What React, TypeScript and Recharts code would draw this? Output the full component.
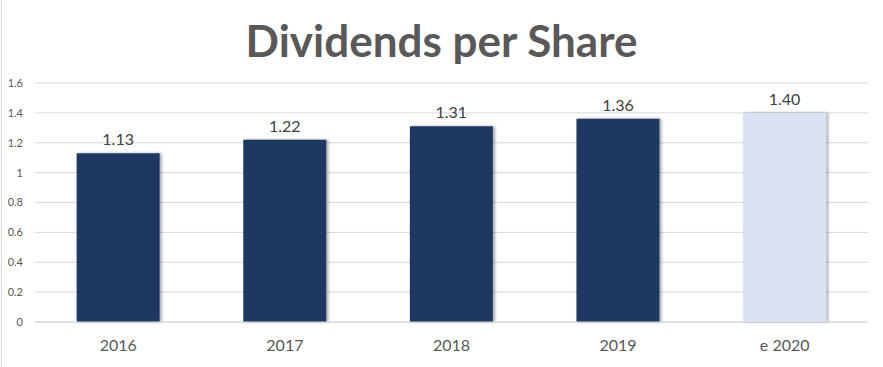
import React from 'react';
import { BarChart, Bar, XAxis, YAxis, CartesianGrid, Cell, LabelList } from 'recharts';

const years = ['2016', '2017', '2018', '2019', 'e 2020'];
const dividends = [1.13, 1.22, 1.31, 1.36, 1.4];
const yTicks = [0, 0.2, 0.4, 0.6, 0.8, 1, 1.2, 1.4, 1.6];
const barColors = ['#1F3864', '#1F3864', '#1F3864', '#1F3864', '#DAE3F3'];

const data = years.map((year, i) => ({ year, value: dividends[i] }));

const FONT = 'Lato, "Open Sans", sans-serif';

export default function App() {
  return (
    <div style={{ position: 'absolute', left: 0, top: 0, width: 883, height: 367, background: '#fff', fontFamily: FONT }}>
      <div style={{ position: 'absolute', left: 1, top: 0, width: 1, height: 367, background: '#D9D9D9' }} />
      <div
        style={{
          position: 'absolute',
          left: 0,
          top: 12,
          width: 883,
          textAlign: 'center',
          fontSize: 44,
          fontWeight: 700,
          color: '#595959',
          lineHeight: '56px',
        }}
      >
        Dividends per Share
      </div>
      <BarChart
        width={883}
        height={367}
        data={data}
        margin={{ top: 83, right: 15, bottom: 0, left: 0 }}
        barCategoryGap="25%"
        style={{ position: 'absolute', left: 0, top: 0 }}
      >
        <defs>
          <filter id="barShadow" x="-10%" y="-5%" width="125%" height="110%">
            <feDropShadow dx="2" dy="0" stdDeviation="1.5" floodColor="#000" floodOpacity="0.35" />
          </filter>
        </defs>
        <CartesianGrid vertical={false} stroke="#D9D9D9" />
        <YAxis
          width={35}
          domain={[0, 1.6]}
          ticks={yTicks}
          axisLine={false}
          tickLine={false}
          tickMargin={6}
          tick={{ fill: '#595959', fontSize: 11, fontFamily: FONT }}
        />
        <XAxis
          dataKey="year"
          height={45}
          axisLine={{ stroke: '#D9D9D9' }}
          tickLine={false}
          tickMargin={12}
          tick={{ fill: '#595959', fontSize: 16, fontFamily: FONT }}
        />
        <Bar dataKey="value" isAnimationActive={false} style={{ filter: 'url(#barShadow)' }}>
          {data.map((d, i) => (
            <Cell key={d.year} fill={barColors[i]} />
          ))}
          <LabelList
            dataKey="value"
            position="top"
            offset={8}
            formatter={(v: any) => Number(v).toFixed(2)}
            style={{ fill: '#404040', fontSize: 16, fontFamily: FONT }}
          />
        </Bar>
      </BarChart>
    </div>
  );
}
